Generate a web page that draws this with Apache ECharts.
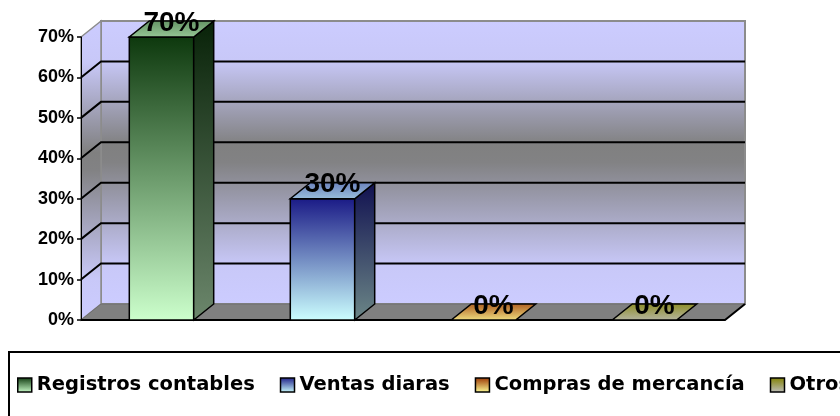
<!DOCTYPE html>
<html>
<head>
<meta charset="utf-8">
<script src="https://cdn.jsdelivr.net/npm/echarts@6/dist/echarts.min.js"></script>
<style>
  html, body { margin: 0; padding: 0; background: #fff; }
  #chart { width: 840px; height: 416px; }
</style>
</head>
<body>
<div id="chart"></div>
<script>
var categories = ['Registros contables', 'Ventas diaras', 'Compras de mercancía', 'Otros'];
var values = [70, 30, 0, 0];
var yTicks = [0, 10, 20, 30, 40, 50, 60, 70];

// dark / light ends of each bar gradient
var shades = [
  ['#0d380d', '#ccffcc'],
  ['#1a1a86', '#ccffff'],
  ['#993300', '#ffff99'],
  ['#808000', '#c0c0c0']
];
var DX = 20, DY = -16; // depth of the 3d effect

function mix(a, b, t) {
  var pa = parseInt(a.slice(1), 16), pb = parseInt(b.slice(1), 16);
  var out = '#';
  [16, 8, 0].forEach(function (s) {
    var ca = (pa >> s) & 255, cb = (pb >> s) & 255;
    var c = Math.round(ca + (cb - ca) * t);
    out += (c < 16 ? '0' : '') + c.toString(16);
  });
  return out;
}
function vGrad(c1, c2) {
  return new echarts.graphic.LinearGradient(0, 0, 0, 1, [
    { offset: 0, color: c1 }, { offset: 1, color: c2 }
  ]);
}
function wallGrad() {
  return new echarts.graphic.LinearGradient(0, 0, 0, 1, [
    { offset: 0, color: '#ccccff' },
    { offset: 0.14, color: '#c8c8f8' },
    { offset: 0.44, color: '#808080' },
    { offset: 0.5, color: '#828284' },
    { offset: 0.86, color: '#c8c8f8' },
    { offset: 1, color: '#ccccff' }
  ]);
}

var myChart = echarts.init(document.getElementById('chart'));

// paredes, suelo y lineas de la rejilla
function renderWalls(params, api) {
  var cs = params.coordSys;
  var L = cs.x, R = cs.x + cs.width, T = cs.y, B = cs.y + cs.height;
  var kids = [];
  kids.push({
    type: 'rect',
    shape: { x: L + DX, y: T + DY, width: cs.width, height: cs.height },
    style: { fill: wallGrad(), stroke: '#8c8c8c', lineWidth: 2 }
  });
  kids.push({
    type: 'polygon',
    shape: { points: [[L, T], [L + DX, T + DY], [L + DX, B + DY], [L, B]] },
    style: { fill: wallGrad(), stroke: '#8c8c8c', lineWidth: 1.5 }
  });
  yTicks.forEach(function (t) {
    if (t === 0 || t === yTicks[yTicks.length - 1]) return;
    var y = api.coord([0, t])[1];
    kids.push({
      type: 'polyline',
      shape: { points: [[L, y], [L + DX, y + DY], [R + DX, y + DY]] },
      style: { stroke: '#000', lineWidth: 2, fill: null }
    });
  });
  kids.push({
    type: 'polygon',
    shape: { points: [[L, B], [R, B], [R + DX, B + DY], [L + DX, B + DY]] },
    style: { fill: '#808080', stroke: '#6e6e6e', lineWidth: 1 }
  });
  kids.push({
    type: 'polyline',
    shape: { points: [[L, B], [R, B], [R + DX, B + DY]] },
    style: { stroke: '#000', lineWidth: 2, fill: null }
  });
  return { type: 'group', children: kids };
}

function makeBarRenderer(i) {
  return function (params, api) {
    var idx = api.value(0), v = api.value(1);
    var top = api.coord([idx, v]), base = api.coord([idx, 0]);
    var w = api.size([1, 0])[0] * 0.4;
    var x0 = top[0] - w / 2, x1 = top[0] + w / 2, yT = top[1], yB = base[1];
    var dark = shades[i][0], light = shades[i][1];
    var kids = [];
    if (yB - yT > 0.5) {
      kids.push({
        type: 'rect',
        shape: { x: x0, y: yT, width: w, height: yB - yT },
        style: { fill: vGrad(dark, light), stroke: '#000', lineWidth: 1.5 }
      });
      kids.push({
        type: 'polygon',
        shape: { points: [[x1, yT], [x1 + DX, yT + DY], [x1 + DX, yB + DY], [x1, yB]] },
        style: { fill: vGrad(mix(dark, '#000000', 0.4), mix(light, '#000000', 0.47)), stroke: '#000', lineWidth: 1.5 }
      });
    }
    var flat = yB - yT <= 0.5;
    kids.push({
      type: 'polygon',
      shape: { points: [[x0 + DX, yT + DY], [x1 + DX, yT + DY], [x1, yT], [x0, yT]] },
      style: {
        fill: vGrad(mix(dark, light, flat ? 0.2 : 0.45), mix(dark, light, flat ? 0.85 : 0.72)),
        stroke: '#000', lineWidth: 1.5
      }
    });
    kids.push({
      type: 'text',
      style: {
        text: v + '%', x: top[0] + DX / 2, y: yT + DY + 2,
        align: 'center', verticalAlign: 'middle',
        fontSize: 28, fontWeight: 'bold', fontFamily: 'Liberation Sans', fill: '#000'
      }
    });
    return { type: 'group', children: kids };
  };
}

var series = [{
  name: 'walls',
  type: 'custom',
  z: 1,
  silent: true,
  clip: false,
  renderItem: renderWalls,
  data: [[0, 0]]
}];
categories.forEach(function (name, i) {
  series.push({
    name: name,
    type: 'custom',
    z: 2,
    clip: false,
    renderItem: makeBarRenderer(i),
    itemStyle: { color: vGrad(shades[i][0], shades[i][1]), borderColor: '#000', borderWidth: 1.5 },
    data: [[i, values[i]]]
  });
});

var option = {
  backgroundColor: '#fff',
  animation: false,
  grid: { left: 81, right: 115, top: 37, bottom: 96 },
  xAxis: {
    type: 'category',
    data: categories,
    boundaryGap: true,
    axisLine: { show: false },
    axisTick: { show: false },
    axisLabel: { show: false }
  },
  yAxis: {
    type: 'value',
    min: 0,
    max: 70,
    interval: 10,
    z: 10,
    axisLine: { show: true, lineStyle: { color: '#000', width: 1 } },
    axisTick: { show: true, length: 4, lineStyle: { color: '#000', width: 1.5 } },
    splitLine: { show: false },
    axisLabel: {
      margin: 7,
      color: '#000',
      fontFamily: 'Liberation Sans',
      fontWeight: 'bold',
      fontSize: 18,
      formatter: '{value}%'
    }
  },
  legend: {
    data: categories,
    left: 9,
    top: 352,
    width: 1200,
    orient: 'horizontal',
    icon: 'rect',
    itemWidth: 14,
    itemHeight: 14,
    itemGap: 25,
    padding: [23, 40, 40, 8],
    borderColor: '#000',
    borderWidth: 2,
    backgroundColor: '#fff',
    itemStyle: { borderColor: '#000', borderWidth: 1.5 },
    textStyle: {
      color: '#000',
      fontFamily: 'DejaVu Sans',
      fontWeight: 'bold',
      fontSize: 19.5
    },
    selectedMode: false
  },
  series: series
};
myChart.setOption(option);
window.addEventListener('resize', function () {
  myChart.resize();
});
</script>
</body>
</html>
